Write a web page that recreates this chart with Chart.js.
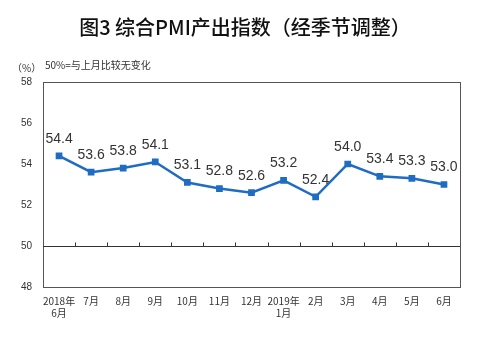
<!DOCTYPE html>
<html>
<head>
<meta charset="utf-8">
<script src="https://cdn.jsdelivr.net/npm/chart.js@4"></script>
<style>
  html, body { margin: 0; padding: 0; background: #fff; }
  #wrap { width: 500px; height: 351px; position: relative; }
</style>
</head>
<body>
<div id="wrap"><canvas id="myChart" width="500" height="351"></canvas></div>
<script>
const months = [['2018年', '6月'], '7月', '8月', '9月', '10月', '11月', '12月', ['2019年', '1月'], '2月', '3月', '4月', '5月', '6月'];
const pmiOutput = [54.4, 53.6, 53.8, 54.1, 53.1, 52.8, 52.6, 53.2, 52.4, 54.0, 53.4, 53.3, 53.0];
const yTicks = [48, 50, 52, 54, 56, 58];

const cjk = '"Noto Sans CJK SC", sans-serif';

// frame, 50 line with ticks, titles, value labels
const decor = {
  id: 'decor',
  beforeDatasetsDraw(chart) {
    const { ctx, chartArea: a, scales: { x, y } } = chart;
    ctx.save();
    ctx.strokeStyle = '#555';
    ctx.lineWidth = 1;
    ctx.strokeRect(a.left + 0.5, a.top + 0.5, a.right - a.left, a.bottom - a.top);
    const y50 = Math.round(y.getPixelForValue(50)) + 0.5;
    ctx.strokeStyle = '#333';
    ctx.beginPath();
    ctx.moveTo(a.left, y50);
    ctx.lineTo(a.right, y50);
    const step = (a.right - a.left) / months.length;
    for (let i = 1; i < months.length; i++) {
      const px = Math.round(a.left + step * i) + 0.5;
      ctx.moveTo(px, y50);
      ctx.lineTo(px, y50 - 4);
    }
    ctx.stroke();
    ctx.restore();
  },
  afterDatasetsDraw(chart) {
    const { ctx } = chart;
    const meta = chart.getDatasetMeta(0);
    ctx.save();
    ctx.fillStyle = '#333';
    ctx.font = '14px "Liberation Sans", Arial, sans-serif';
    ctx.textAlign = 'center';
    ctx.textBaseline = 'middle';
    meta.data.forEach((pt, i) => {
      ctx.fillText(pmiOutput[i].toFixed(1), pt.x, pt.y - 17);
    });
    ctx.fillStyle = '#111';
    ctx.font = '500 20px ' + cjk;
    ctx.fillText('图3 综合PMI产出指数（经季节调整）', 245, 27);
    ctx.fillStyle = '#333';
    ctx.font = '10px ' + cjk;
    ctx.textAlign = 'left';
    ctx.fillText('（%）', 12, 68);
    ctx.fillText('50%=与上月比较无变化', 45, 65);
    ctx.restore();
  }
};

new Chart(document.getElementById('myChart').getContext('2d'), {
  type: 'line',
  data: {
    labels: months,
    datasets: [{
      data: pmiOutput,
      borderColor: '#1f6cc4',
      backgroundColor: '#1f6cc4',
      borderWidth: 2.5,
      pointStyle: 'rect',
      pointRadius: 3,
      pointHoverRadius: 3,
      tension: 0
    }]
  },
  options: {
    responsive: false,
    animation: false,
    layout: { padding: { left: 0, right: 40, top: 82, bottom: 0 } },
    plugins: { legend: { display: false }, tooltip: { enabled: false } },
    scales: {
      x: {
        offset: true,
        grid: { display: false, drawTicks: false },
        border: { display: false },
        ticks: {
          color: '#333',
          font: { family: cjk, size: 10 },
          padding: 8,
          maxRotation: 0,
          autoSkip: false
        },
        afterFit: (s) => { s.height = 64; }
      },
      y: {
        min: 48,
        max: 58,
        afterBuildTicks: (s) => { s.ticks = yTicks.map(v => ({ value: v })); },
        grid: { display: false, drawTicks: false },
        border: { display: false },
        ticks: {
          color: '#333',
          font: { family: '"Liberation Sans", Arial, sans-serif', size: 10 },
          padding: 11
        },
        afterFit: (s) => { s.width = 43; }
      }
    }
  },
  plugins: [decor]
});
</script>
</body>
</html>
